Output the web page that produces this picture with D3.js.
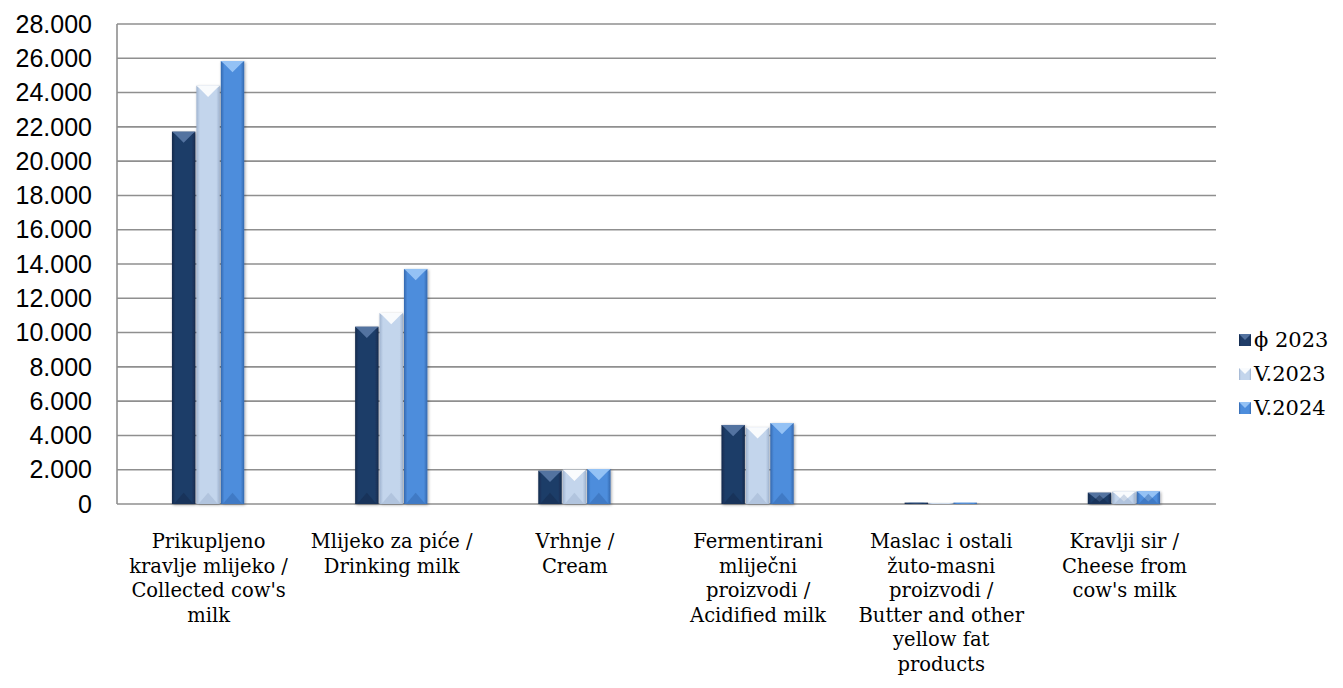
<!DOCTYPE html>
<html lang="hr">
<head>
<meta charset="UTF-8">
<title>Mlijeko i mliječni proizvodi</title>
<script src="https://d3js.org/d3.v7.min.js"></script>
<style>
  html, body { margin: 0; padding: 0; background: #fff; }
  svg { display: block; }
  .ytick text { font-family: "Liberation Sans", Arial, sans-serif; font-size: 25px; fill: #000; }
  .cat text { font-family: "DejaVu Serif", "Liberation Serif", serif; font-size: 19.5px; fill: #000; }
  .legend text { font-family: "DejaVu Serif", "Liberation Serif", serif; font-size: 21px; fill: #000; }
</style>
</head>
<body>
<svg width="1343" height="688"></svg>
<script>
// data
const categories = [
  ["Prikupljeno", "kravlje mlijeko /", "Collected cow's", "milk"],
  ["Mlijeko za piće /", "Drinking milk"],
  ["Vrhnje /", "Cream"],
  ["Fermentirani", "mliječni", "proizvodi /", "Acidified milk"],
  ["Maslac i ostali", "žuto-masni", "proizvodi /", "Butter and other", "yellow fat", "products"],
  ["Kravlji sir /", "Cheese from", "cow's milk"]
];
const seriesNames = ["ϕ 2023", "V.2023", "V.2024"];
const avg2023 = [21720, 10340, 1940, 4610, 80, 660];
const may2023 = [24400, 11140, 2000, 4470, 60, 720];
const may2024 = [25840, 13710, 2040, 4720, 80, 740];
const yTicks = [0, 2000, 4000, 6000, 8000, 10000, 12000, 14000, 16000, 18000, 20000, 22000, 24000, 26000, 28000];

const series = [avg2023, may2023, may2024];
// base, dark edge, bevel colour per series
const palette = [
  { base: "#1f3c68", edge: "#142a4c", top: "#5a79a6" },
  { base: "#c3d5ec", edge: "#9fb3cf", top: "#ffffff" },
  { base: "#4d8ddc", edge: "#3468ae", top: "#9cc8f7" }
];

const svg = d3.select("svg");
const plotL = 117, plotR = 1216, plotT = 24, plotB = 504;

const x0 = d3.scaleBand().domain(d3.range(categories.length)).range([plotL, plotR]).paddingInner(0).paddingOuter(0);
const groupW = x0.bandwidth() * 0.4;
const x1 = d3.scaleBand().domain(d3.range(series.length)).range([0, groupW]).padding(0);
const y = d3.scaleLinear().domain([0, 28000]).range([plotB, plotT]);

const fmt = v => v === 0 ? "0" : d3.format(",")(v).replace(/,/g, ".");

// gradients
const defs = svg.append("defs");
palette.forEach((p, i) => {
  const g = defs.append("linearGradient").attr("id", "grad" + i).attr("x1", 0).attr("x2", 1).attr("y1", 0).attr("y2", 0);
  g.append("stop").attr("offset", "0%").attr("stop-color", p.edge);
  g.append("stop").attr("offset", "15%").attr("stop-color", p.base);
  g.append("stop").attr("offset", "85%").attr("stop-color", p.base);
  g.append("stop").attr("offset", "100%").attr("stop-color", p.edge);
});
const shadow = defs.append("filter").attr("id", "shadow").attr("x", "-30%").attr("y", "-10%").attr("width", "160%").attr("height", "120%");
shadow.append("feDropShadow").attr("dx", 1).attr("dy", 1).attr("stdDeviation", 1.5).attr("flood-color", "#000").attr("flood-opacity", 0.35);

// gridlines
svg.append("g").selectAll("line").data(yTicks).join("line")
  .attr("x1", plotL).attr("x2", plotR)
  .attr("y1", d => y(d)).attr("y2", d => y(d))
  .attr("stroke", "#8f8f8f").attr("stroke-width", 1.6);

// y axis line
svg.append("line").attr("x1", plotL).attr("x2", plotL).attr("y1", plotT).attr("y2", plotB)
  .attr("stroke", "#8f8f8f").attr("stroke-width", 1.6);

// y tick labels
svg.append("g").attr("class", "ytick").selectAll("text").data(yTicks).join("text")
  .attr("x", plotL - 25).attr("y", d => y(d)).attr("dy", "0.35em")
  .attr("text-anchor", "end").text(fmt);

// bars
const bars = [];
categories.forEach((c, ci) => {
  series.forEach((s, si) => {
    bars.push({ ci, si, v: s[ci] });
  });
});

const barG = svg.append("g").selectAll("g").data(bars).join("g")
  .attr("transform", d => `translate(${x0(d.ci) + (x0.bandwidth() - groupW) / 2 + x1(d.si)},0)`);

const bw = x1.bandwidth() - 1;
barG.append("rect")
  .attr("x", 0).attr("width", bw)
  .attr("y", d => y(d.v)).attr("height", d => plotB - y(d.v))
  .attr("fill", d => `url(#grad${d.si})`)
  .attr("filter", "url(#shadow)");

// top bevel (triangle pointing down)
barG.append("path")
  .attr("d", d => {
    const t = y(d.v), h = Math.min(7, (plotB - t) / 2);
    return `M0,${t}L${bw},${t}L${bw - 3},${t + h * 0.35}L${bw / 2},${t + h * 1.6}L3,${t + h * 0.35}Z`;
  })
  .attr("fill", d => palette[d.si].top)
  .attr("opacity", 0.9);

// bottom bevel (faint triangle pointing up)
barG.append("path")
  .attr("d", d => {
    const t = y(d.v), h = Math.min(7, (plotB - t) / 2);
    return `M2,${plotB}L${bw / 2},${plotB - h * 1.6}L${bw - 2},${plotB}Z`;
  })
  .attr("fill", d => palette[d.si].edge)
  .attr("opacity", 0.5);

// category labels
const cat = svg.append("g").attr("class", "cat").selectAll("text").data(categories).join("text")
  .attr("text-anchor", "middle")
  .attr("x", (d, i) => x0(i) + x0.bandwidth() / 2)
  .attr("y", 548);
cat.selectAll("tspan").data(d => d).join("tspan")
  .attr("x", function () { return d3.select(this.parentNode).attr("x"); })
  .attr("dy", (d, i) => i === 0 ? 0 : 24.5)
  .text(d => d);

// legend
const lg = svg.append("g").attr("class", "legend").selectAll("g").data(seriesNames).join("g")
  .attr("transform", (d, i) => `translate(1239,${340 + i * 34})`);
lg.append("rect").attr("x", 0).attr("y", -6).attr("width", 12).attr("height", 12)
  .attr("fill", (d, i) => `url(#grad${i})`);
lg.append("path").attr("d", "M0,-6L12,-6L6,0Z").attr("fill", (d, i) => palette[i].top).attr("opacity", 0.9);
lg.append("text").attr("x", 15).attr("dy", "0.35em").text(d => d);
</script>
</body>
</html>
